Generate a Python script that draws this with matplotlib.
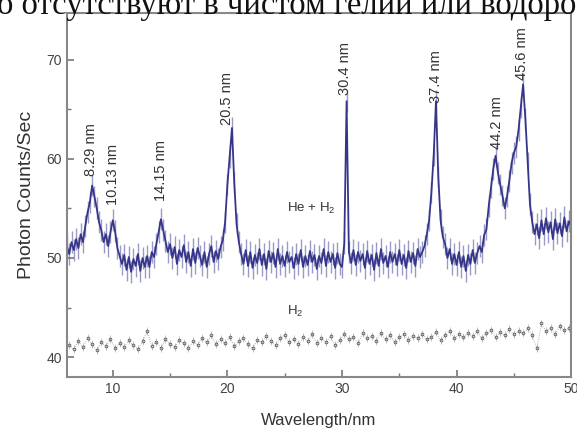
import numpy as np
import matplotlib.pyplot as plt

# He + H2 spectrum, sampled every 0.2 nm from 6.0 to 50.0 nm
wl_he = np.arange(6.0, 50.01, 0.2)
counts_he = [
    51.2, 50.4, 51.6, 50.8, 51.9,
    51.0, 52.4, 51.6, 53.2, 54.6,
    55.6, 57.3, 56.2, 55.0, 53.6,
    52.8, 51.6, 52.4, 51.2, 52.6,
    53.8, 52.7, 51.0, 50.2, 49.4,
    50.3, 48.8, 50.1, 48.6, 49.9,
    49.2, 50.4, 48.7, 50.0, 49.1,
    50.2, 49.1, 50.6, 50.1, 51.4,
    52.6, 53.9, 52.8, 51.7, 50.6,
    51.4, 50.0, 51.1, 49.4, 50.8,
    50.1, 51.3, 49.6, 50.6, 49.2,
    50.9, 49.5, 51.0, 50.2, 49.3,
    50.6, 49.1, 50.4, 51.2, 49.6,
    50.7, 49.9, 51.1, 51.8, 53.6,
    57.4, 60.2, 63.1, 57.6, 53.4,
    51.6, 50.4, 49.4, 50.8, 49.2,
    50.6, 49.0, 50.3, 49.5, 50.9,
    49.3, 50.4, 48.9, 50.7, 49.6,
    50.5, 49.1, 50.9, 49.4, 50.2,
    49.2, 50.6, 49.6, 50.1, 49.0,
    50.4, 49.4, 50.8, 49.1, 50.2,
    49.3, 50.7, 49.6, 50.3, 48.9,
    50.2, 49.5, 50.9, 49.2, 50.6,
    49.6, 50.4, 49.0, 50.5, 49.4,
    49.1, 51.5, 65.8, 50.6, 49.5,
    50.8, 49.3, 50.6, 49.7, 50.4,
    49.0, 50.7, 49.4, 50.3, 48.8,
    50.5, 49.2, 50.9, 49.5, 50.2,
    49.1, 50.6, 49.6, 50.4, 49.3,
    50.8, 49.4, 50.3, 49.0, 50.7,
    49.6, 50.5, 49.2, 50.9, 50.1,
    50.6, 51.2, 52.4, 53.8, 56.6,
    60.4, 65.8, 58.2, 53.8, 52.1,
    51.4, 50.0, 50.9, 49.4, 50.4,
    49.3, 50.6, 49.1, 50.2, 48.7,
    50.3, 49.4, 50.8, 49.5, 50.5,
    51.2, 50.6, 52.3, 52.9, 55.2,
    57.1, 59.0, 60.3, 58.6, 57.4,
    56.3, 55.0, 56.2, 57.8, 59.6,
    60.6, 61.2, 62.9, 65.2, 67.5,
    64.0, 59.6, 55.4, 53.6, 52.4,
    53.4, 52.0, 53.8, 52.4, 54.0,
    52.6, 53.6, 51.9, 53.9, 52.5,
    53.5, 52.2, 54.1, 52.7, 53.7,
    53.2,
]
err_he = 1.1

# pure H2 background, every 0.4 nm from 6.2 to 49.8 nm
wl_h2 = np.arange(6.2, 49.81, 0.4)
counts_h2 = [
    41.2, 40.8, 41.6, 41.0, 41.9, 41.3, 40.7, 41.5, 41.1, 41.8, 40.9,
    41.4, 41.0, 41.7, 41.2, 40.8, 41.6, 42.6, 41.1, 41.5, 40.9, 41.8,
    41.3, 41.0, 41.7, 41.4, 40.9, 41.6, 41.2, 41.9, 41.5, 42.2, 41.3,
    41.8, 41.4, 42.0, 41.1, 41.6, 41.9, 41.3, 40.9, 41.7, 41.5, 42.1,
    41.6, 41.2, 41.9, 42.2, 41.5, 41.8, 41.3, 42.0, 41.6, 42.3, 41.4,
    41.9, 41.5, 42.1, 41.2, 41.7, 42.3, 41.8, 42.0, 41.4, 42.4, 41.9,
    42.1, 41.6, 42.4, 41.8, 42.2, 41.5, 42.0, 42.3, 41.7, 42.1, 41.9,
    42.3, 41.8, 42.0, 42.5, 41.7, 42.2, 42.6, 41.9, 42.3, 42.0, 42.4,
    42.1, 42.6, 41.9, 42.4, 42.7, 42.0, 42.5, 42.2, 42.8, 42.3, 42.6,
    42.4, 42.9, 42.2, 40.9, 43.4, 42.6, 42.9, 42.3, 43.1, 42.7, 42.9,
]
err_h2 = 0.4

# line labels: text, x, y (bottom of the rotated text)
peak_labels = ['8.29 nm', '10.13 nm', '14.15 nm', '20.5 nm',
               '30.4 nm', '37.4 nm', '44.2 nm', '45.6 nm']
peak_x = [8.1, 10.0, 14.25, 20.0, 30.3, 38.2, 43.5, 45.7]
peak_y = [58.3, 55.3, 55.7, 63.4, 66.4, 65.6, 61.0, 67.9]

plt.rcParams['font.family'] = ['Liberation Sans', 'DejaVu Sans']
plt.rcParams['mathtext.default'] = 'regular'

fig = plt.figure(figsize=(5.77, 4.29), dpi=100)
ax = fig.add_axes([0.116, 0.121, 0.874, 0.849])

ax.errorbar(wl_he, counts_he, yerr=err_he, fmt='none',
            ecolor='#9a9ac4', elinewidth=1.0, zorder=1)
ax.plot(wl_he, counts_he, color='#35358a', lw=1.3, zorder=2)

ax.errorbar(wl_h2, counts_h2, yerr=err_h2, fmt='none',
            ecolor='#bbbbbb', elinewidth=0.6, zorder=1)
ax.plot(wl_h2, counts_h2, ls=':', lw=0.6, color='#999999', zorder=1)
ax.plot(wl_h2, counts_h2, ls='none', marker='o', ms=2.0, mfc='none',
        mec='#555555', mew=0.6, zorder=2)

for lab, x, y in zip(peak_labels, peak_x, peak_y):
    ax.text(x, y, lab, rotation=90, ha='center', va='bottom',
            fontsize=10.5, color='#333333')

ax.text(27.3, 55.0, 'He + H$_2$', ha='center', va='center',
        fontsize=9.5, color='#333333')
ax.text(25.9, 44.6, 'H$_2$', ha='center', va='center',
        fontsize=9.5, color='#333333')

ax.set_xlim(6, 50)
ax.set_ylim(38, 74.7)
ax.set_xticks([10, 20, 30, 40, 50])
ax.set_xticks([15, 25, 35, 45], minor=True)
ax.set_yticks([40, 50, 60, 70])
ax.set_yticks([45, 55, 65], minor=True)
ax.tick_params(direction='in', length=5, width=1.2, color='#777777',
               labelcolor='#444444', labelsize=10)
ax.tick_params(which='minor', direction='in', length=3, width=1.0,
               color='#777777')
for sp in ax.spines.values():
    sp.set_color('#888888')
    sp.set_linewidth(1.5)

ax.set_xlabel('Wavelength/nm', fontsize=12, color='#333333', labelpad=12)
ax.set_ylabel('Photon Counts/Sec', fontsize=14, color='#333333', labelpad=8)

# last line of the surrounding page text, cut off at the top
fig.text(-0.005, 1 - 14 / 429, 'о отсутствуют в чистом гелии или водоро',
         family='Liberation Serif', fontsize=23.5, color='#111111',
         ha='left', va='baseline')

fig.savefig('out.png', dpi=100)
